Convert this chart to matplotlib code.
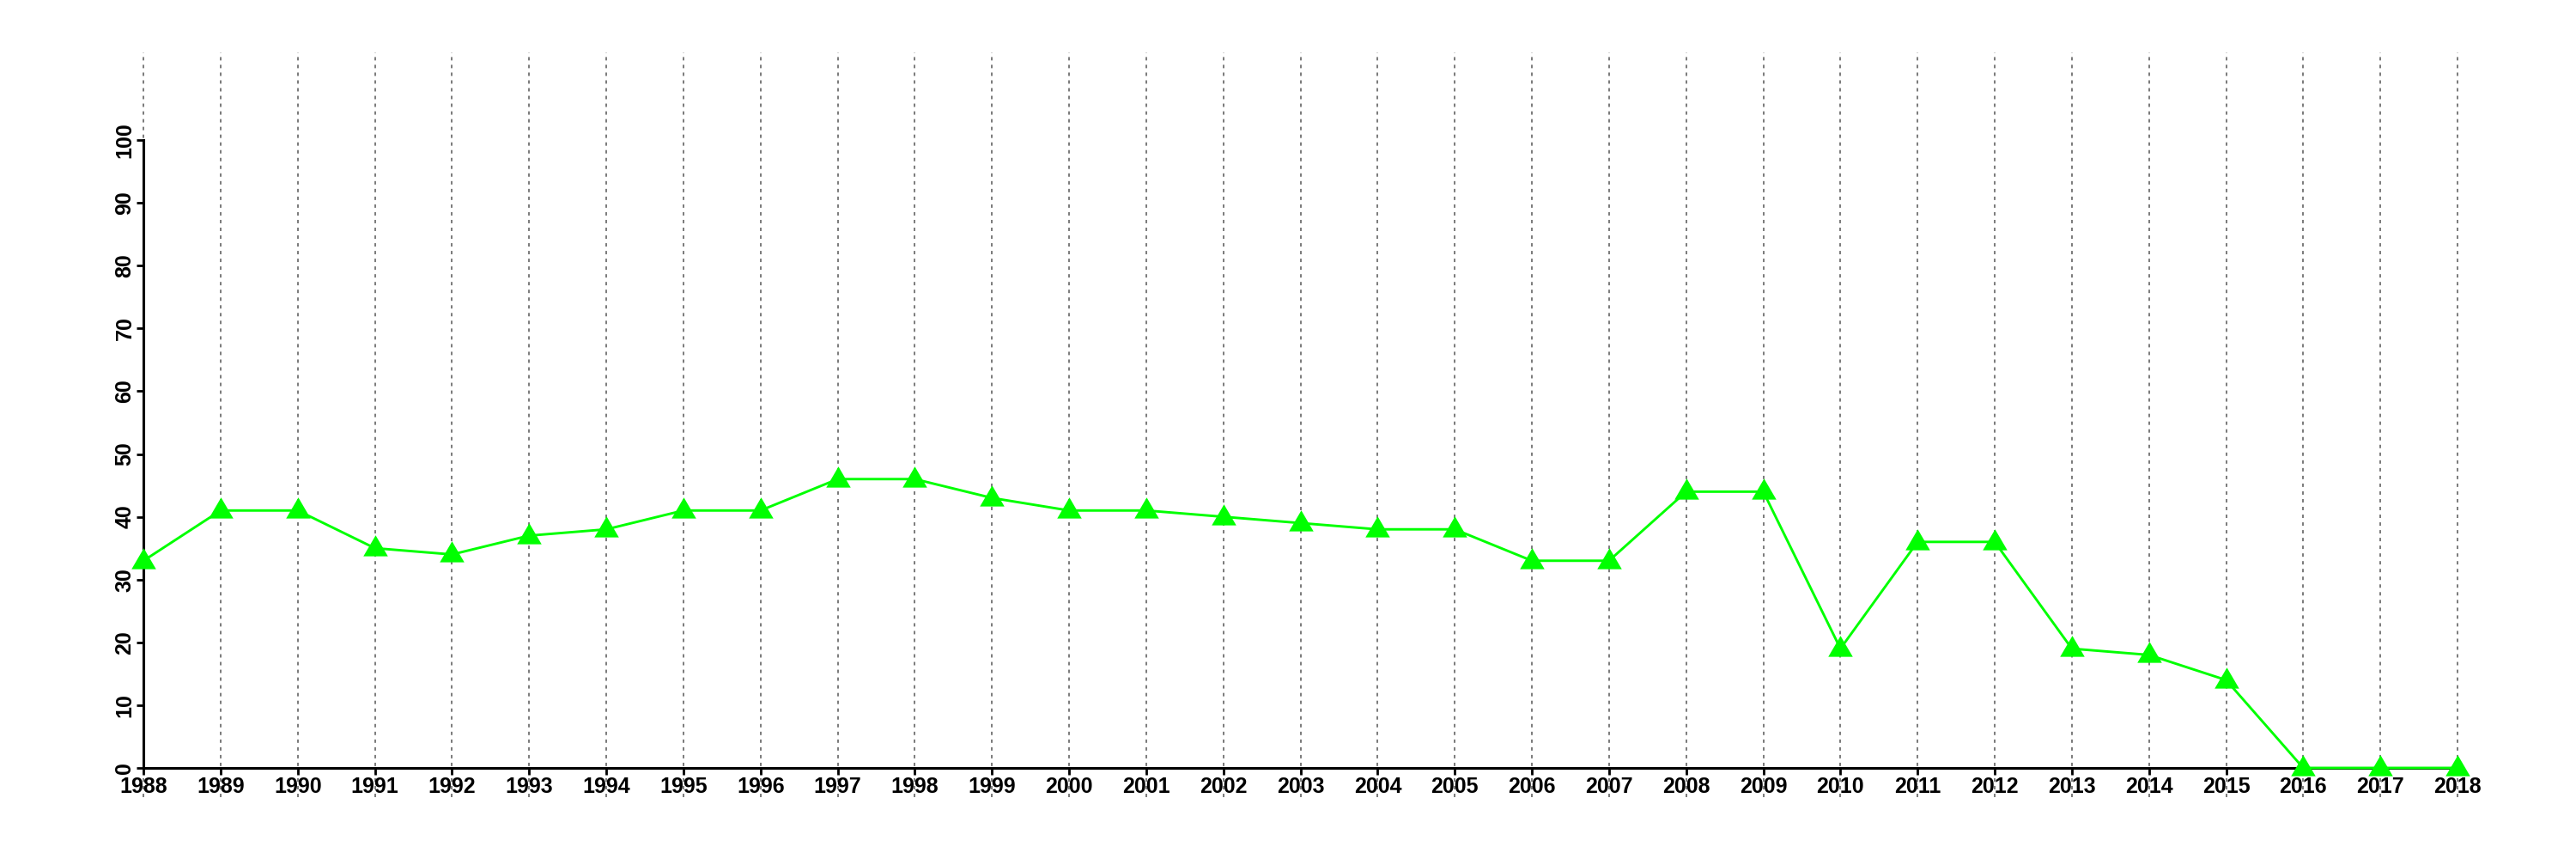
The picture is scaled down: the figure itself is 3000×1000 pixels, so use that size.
import matplotlib
matplotlib.use("Agg")
import matplotlib.pyplot as plt
import numpy as np

years = list(range(1988, 2019))
values = [33, 41, 41, 35, 34, 37, 38, 41, 41, 46, 46, 43, 41, 41, 40, 39, 38, 38,
          33, 33, 44, 44, 19, 36, 36, 19, 18, 14, 0, 0, 0]
yticks = [0, 10, 20, 30, 40, 50, 60, 70, 80, 90, 100]

plt.rcParams['font.family'] = ['Liberation Sans', 'DejaVu Sans']

fig = plt.figure(figsize=(30, 10), dpi=100)
ax = fig.add_axes([0.0557, 0.106, 0.954 - 0.0557, 0.837 - 0.106])
ax.set_xlim(1988, 2018)
ax.set_ylim(0, 100)

# vertical dotted guide lines
ax.vlines(years, -4.6, 114, colors='#707070', linewidth=1.3,
          linestyles=[(0, (2.2, 2.8))], clip_on=False, zorder=1)

tri = [(-1, -0.64), (1, -0.64), (0, 1.07)]
ax.plot(years, values, color='#00FF00', linewidth=2.1, marker=tri,
        markersize=22, markerfacecolor='#00FF00', markeredgewidth=0,
        clip_on=False, zorder=3)

for s in ['top', 'right']:
    ax.spines[s].set_visible(False)
for s in ['left', 'bottom']:
    ax.spines[s].set_linewidth(2.2)
    ax.spines[s].set_zorder(2)

ax.set_xticks(years)
ax.set_xticklabels([str(y) for y in years], fontsize=18, fontweight='bold')
ax.set_yticks(yticks)
ax.set_yticklabels([str(v) for v in yticks], fontsize=18, fontweight='bold',
                   rotation=90, va='center')
ax.tick_params(axis='both', length=6, width=2, pad=1)

fig.savefig('out.png', dpi=100, facecolor='white')
